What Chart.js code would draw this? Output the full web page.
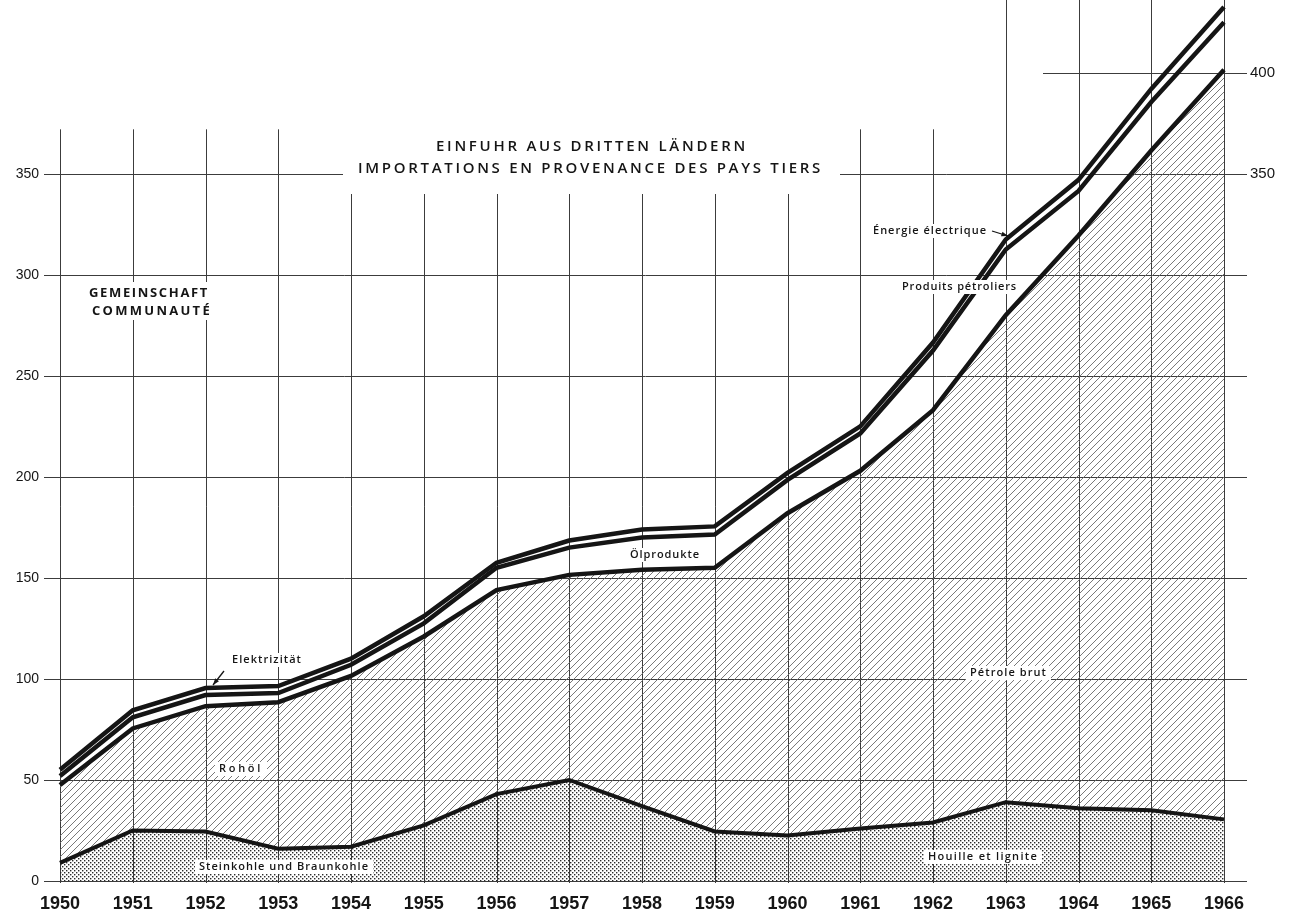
<!DOCTYPE html>
<html>
<head>
<meta charset="utf-8">
<script src="https://cdn.jsdelivr.net/npm/chart.js@4.4.1/dist/chart.umd.min.js"></script>
<style>
    html, body { margin: 0; padding: 0; background: #fff; }
    #grafica { display: block; }
</style>
</head>
<body>
<canvas id="grafica" width="1290" height="914"></canvas>
<script>
const anyos = ['1950', '1951', '1952', '1953', '1954', '1955', '1956', '1957', '1958',
    '1959', '1960', '1961', '1962', '1963', '1964', '1965', '1966'];

// Mio t SKE (gestapelt)
const steinkohle = [9, 25, 24.5, 16, 17, 27.5, 43, 50, 37, 24.5, 22.5, 26, 29, 39, 36, 35, 30.5];
const rohoel = [38.5, 50.5, 62, 72.5, 84.5, 93.5, 101, 101.5, 117, 130.5, 159.5, 177, 204, 241, 283.5, 326.5, 371];
const oelprodukte = [4.5, 5.5, 5.5, 4.5, 5.5, 6.5, 11, 13.5, 16, 16.5, 16.5, 18.5, 29.5, 32.5, 22, 24, 23.5];
const elektrizitaet = [3, 3.5, 3.5, 3.5, 3, 3.5, 2.5, 3.5, 4, 4, 3.5, 3.5, 4, 5, 5.5, 6.5, 7.5];

const ticksIzq = [0, 50, 100, 150, 200, 250, 300, 350];
const ticksDer = [350, 400];
const lineasAbajo = [0, 50, 100, 150, 200, 250, 300];

const yMax = 436;
const tinta = '#151515';

function patronRayado() {
    const c = document.createElement('canvas');
    c.width = 7; c.height = 7;
    const ctx = c.getContext('2d');
    ctx.strokeStyle = '#6a6a6a';
    ctx.lineWidth = 0.9;
    ctx.beginPath();
    ctx.moveTo(0, 7); ctx.lineTo(7, 0);
    ctx.moveTo(-1, 1); ctx.lineTo(1, -1);
    ctx.moveTo(6, 8); ctx.lineTo(8, 6);
    ctx.stroke();
    return ctx.createPattern(c, 'repeat');
}

function patronPuntos() {
    const c = document.createElement('canvas');
    c.width = 4; c.height = 4;
    const ctx = c.getContext('2d');
    ctx.fillStyle = '#2a2a2a';
    ctx.fillRect(0, 0, 1.4, 1.4);
    ctx.fillRect(2, 2, 1.4, 1.4);
    return ctx.createPattern(c, 'repeat');
}

// texto estirado entre x1 y x2 (imita el espaciado de la imprenta)
function texto(ctx, str, x1, x2, yc, font) {
    ctx.font = font;
    ctx.letterSpacing = '0px';
    const w = ctx.measureText(str).width;
    const sp = Math.max(0, (x2 - x1 - w) / str.length);
    ctx.letterSpacing = sp + 'px';
    ctx.textAlign = 'left';
    ctx.textBaseline = 'middle';
    ctx.fillStyle = tinta;
    ctx.fillText(str, x1, yc);
    ctx.letterSpacing = '0px';
}

function caja(ctx, x1, y1, x2, y2) {
    ctx.fillStyle = '#fff';
    ctx.fillRect(x1, y1, x2 - x1, y2 - y1);
}

function flecha(ctx, x1, y1, x2, y2) {
    const a = Math.atan2(y2 - y1, x2 - x1);
    ctx.strokeStyle = tinta;
    ctx.fillStyle = tinta;
    ctx.lineWidth = 1.3;
    ctx.beginPath();
    ctx.moveTo(x1, y1);
    ctx.lineTo(x2, y2);
    ctx.stroke();
    ctx.beginPath();
    ctx.moveTo(x2, y2);
    ctx.lineTo(x2 - 7 * Math.cos(a - 0.35), y2 - 7 * Math.sin(a - 0.35));
    ctx.lineTo(x2 - 7 * Math.cos(a + 0.35), y2 - 7 * Math.sin(a + 0.35));
    ctx.closePath();
    ctx.fill();
}

const rejilla = {
    id: 'rejilla',
    beforeDatasetsDraw(chart) {
        const { ctx, chartArea, scales: { x, y } } = chart;
        ctx.save();
        ctx.strokeStyle = '#3c3c3c';
        ctx.lineWidth = 1;
        ctx.beginPath();
        anyos.forEach((a, i) => {
            const px = Math.round(x.getPixelForValue(i)) + 0.5;
            const arriba = Number(a) >= 1963 ? 0 : y.getPixelForValue(372);
            ctx.moveTo(px, arriba);
            ctx.lineTo(px, y.getPixelForValue(0) + 2);
        });
        lineasAbajo.concat([350]).forEach(v => {
            const py = Math.round(y.getPixelForValue(v)) + 0.5;
            ctx.moveTo(chartArea.left - 16, py);
            ctx.lineTo(chartArea.right + 23, py);
        });
        const p400 = Math.round(y.getPixelForValue(400)) + 0.5;
        ctx.moveTo(chartArea.right - 181, p400);
        ctx.lineTo(chartArea.right + 23, p400);
        ctx.stroke();
        ctx.restore();
    },
    afterDatasetsDraw(chart) {
        const { ctx } = chart;
        ctx.save();
        // titulo
        caja(ctx, 343, 128, 840, 194);
        texto(ctx, 'EINFUHR AUS DRITTEN LÄNDERN', 436, 748, 147, '600 15px "Open Sans"');
        texto(ctx, 'IMPORTATIONS EN PROVENANCE DES PAYS TIERS', 358, 823, 169, '600 15px "Open Sans"');

        caja(ctx, 72, 282, 214, 320);
        texto(ctx, 'GEMEINSCHAFT', 89, 209, 293, 'bold 13px "Open Sans"');
        texto(ctx, 'COMMUNAUTÉ', 92, 212, 311, 'bold 13px "Open Sans"');

        const f = '600 11px "Open Sans"';
        const etiquetas = [
            ['Elektrizität', 232, 302, 660],
            ['Rohöl', 219, 263, 769],
            ['Steinkohle und Braunkohle', 199, 369, 867],
            ['Ölprodukte', 630, 700, 555],
            ['Énergie électrique', 873, 987, 231],
            ['Produits pétroliers', 902, 1017, 287],
            ['Pétrole brut', 970, 1047, 673],
            ['Houille et lignite', 928, 1038, 857]
        ];
        etiquetas.forEach(([t, x1, x2, yc]) => {
            caja(ctx, x1 - 4, yc - 7, x2 + 4, yc + 7);
            texto(ctx, t, x1, x2, yc, f);
        });
        flecha(ctx, 224, 671, 213, 685);
        flecha(ctx, 992, 231, 1008, 236);
        ctx.restore();
    }
};

const lineaBase = {
    pointRadius: 0,
    borderColor: tinta,
    borderWidth: 4.5,
    tension: 0
};

const datos = {
    labels: anyos,
    datasets: [
        { ...lineaBase, label: 'Steinkohle und Braunkohle', data: steinkohle, fill: 'origin', backgroundColor: patronPuntos(), borderWidth: 4 },
        { ...lineaBase, label: 'Rohöl', data: rohoel, fill: '-1', backgroundColor: patronRayado() },
        { ...lineaBase, label: 'Ölprodukte', data: oelprodukte, fill: false },
        { ...lineaBase, label: 'Elektrizität', data: elektrizitaet, fill: false }
    ]
};

// sin margenes extra: el area del grafico va de 0 a 881 y de 60 a 1224
function sinRelleno(s) {
    s.paddingTop = 0;
    s.paddingBottom = 0;
    s.paddingLeft = 0;
    s.paddingRight = 0;
}

const opciones = {
    responsive: false,
    animation: false,
    devicePixelRatio: 1,
    layout: { padding: 0 },
    plugins: { legend: { display: false }, tooltip: { enabled: false } },
    scales: {
        x: {
            type: 'category',
            offset: false,
            grid: { display: false, drawTicks: false },
            border: { display: false },
            ticks: {
                color: tinta,
                padding: 12,
                maxRotation: 0,
                autoSkip: false,
                font: { family: '"Liberation Sans Narrow", "Liberation Sans", sans-serif', size: 18, weight: 'bold' }
            },
            afterFit: s => { s.height = 33; sinRelleno(s); }
        },
        y: {
            stacked: true,
            min: 0,
            max: yMax,
            grid: { display: false, drawTicks: false },
            border: { display: false },
            afterBuildTicks: s => { s.ticks = ticksIzq.map(v => ({ value: v })); },
            ticks: {
                color: tinta,
                padding: 21,
                font: { family: '"Liberation Sans", Arial, sans-serif', size: 14 }
            },
            afterFit: s => { s.width = 60; sinRelleno(s); }
        },
        y2: {
            position: 'right',
            min: 0,
            max: yMax,
            grid: { display: false, drawTicks: false },
            border: { display: false },
            afterBuildTicks: s => { s.ticks = ticksDer.map(v => ({ value: v })); },
            ticks: {
                color: tinta,
                padding: 26,
                font: { family: '"Liberation Sans", Arial, sans-serif', size: 15 }
            },
            afterFit: s => { s.width = 66; sinRelleno(s); }
        }
    }
};

new Chart(document.getElementById('grafica'), {
    type: 'line',
    data: datos,
    options: opciones,
    plugins: [rejilla]
});
</script>
</body>
</html>
